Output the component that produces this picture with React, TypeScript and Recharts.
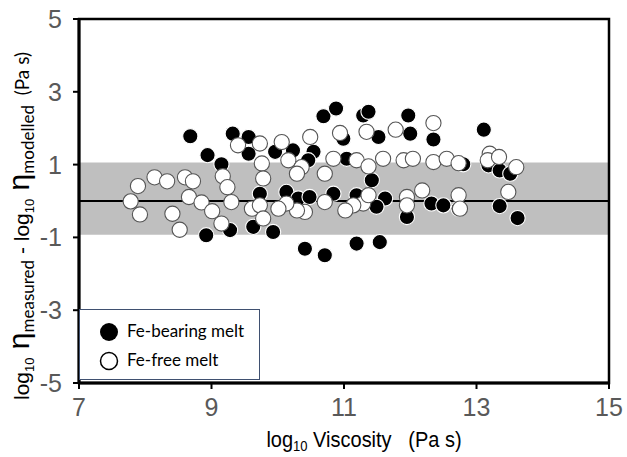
import {
  ScatterChart,
  Scatter,
  XAxis,
  YAxis,
  ReferenceArea,
  ReferenceLine,
  Legend,
} from 'recharts';

// log10 viscosity (x) vs residual log10 eta measured - modelled (y)
const feBearingX = [
  8.68, 8.94, 9.15, 8.92, 9.32, 9.56, 9.56, 9.28, 9.63, 10.69, 10.88, 11.29, 11.37, 11.97, 12.35, 12.0,
  11.52, 10.99, 10.54, 10.23, 9.96, 11.04, 10.46, 11.42, 9.73, 10.13, 10.31, 10.48, 10.84, 11.19, 11.62,
  11.49, 11.95, 12.32, 12.5, 9.93, 10.41, 10.71, 11.19, 11.54, 13.11, 12.8, 13.18, 13.35, 13.51, 12.73,
  13.35, 13.62,
];
const feBearingY = [
  1.78, 1.26, 1.01, -0.94, 1.85, 1.76, 1.3, -0.8, -0.71, 2.33, 2.54, 2.35, 2.45, 2.35, 1.69, 1.85,
  1.76, 1.71, 1.35, 1.39, 1.35, 1.16, 1.12, 0.57, 0.2, 0.25, 0.07, 0.11, 0.2, 0.16, 0.07,
  -0.16, -0.44, -0.07, -0.12, -0.85, -1.31, -1.49, -1.17, -1.13, 1.96, 1.01, 0.98, 0.84, 0.75, -0.21,
  -0.14, -0.47,
];

const feFreeX = [
  7.89, 7.78, 7.92, 8.14, 8.33, 8.6, 8.72, 8.66, 8.41, 8.52, 8.85, 9.01, 9.15, 9.17, 9.24, 9.3,
  9.4, 9.61, 9.73, 9.76, 9.78, 10.06, 10.16, 10.36, 10.29, 10.49, 10.71, 10.84, 10.94, 11.19, 11.34,
  11.37, 11.59, 11.78, 11.9, 12.04, 12.35, 12.35, 12.55, 12.73, 11.29, 11.37, 11.14, 11.02, 10.71,
  10.41, 10.29, 10.13, 10.01, 9.73, 9.78, 12.18, 11.95, 11.95, 12.73, 12.75, 13.2, 13.17, 13.34,
  13.6, 13.48,
];
const feFreeY = [
  0.41, -0.01, -0.37, 0.65, 0.54, 0.65, 0.54, 0.11, -0.35, -0.79, -0.04, -0.28, -0.62, 0.68, 0.38, -0.03,
  1.53, -0.21, 1.58, 1.03, 0.62, 1.62, 1.12, 0.93, 0.75, 1.76, 0.75, 1.16, 1.87, 1.12, 1.9,
  0.95, 1.16, 1.96, 1.12, 1.16, 2.14, 1.07, 1.16, 1.04, -0.07, 0.16, -0.12, -0.26, -0.03,
  -0.3, -0.26, -0.07, -0.21, -0.12, -0.48, 0.29, 0.11, -0.12, 0.16, -0.21, 1.3, 1.12, 1.21,
  0.93, 0.25,
];

const xTicks = [7, 9, 11, 13, 15];
const yTicks = [-5, -3, -1, 1, 3, 5];
const bandLow = -0.93;
const bandHigh = 1.06;
const seriesNames = ['Fe-bearing melt', 'Fe-free melt'];

const feBearing = feBearingX.map((x, i) => ({ x, y: feBearingY[i] }));
const feFree = feFreeX.map((x, i) => ({ x, y: feFreeY[i] }));

const tickFont = '"Liberation Sans", Arial, sans-serif';

const XTick = ({ x, y, payload }: any) => (
  <text x={x} y={y + 25} textAnchor="middle" fontSize={25} fill="#595959" fontFamily={tickFont}>
    {payload.value}
  </text>
);

const YTick = ({ x, y, payload }: any) => (
  <text x={x - 9} y={y + 9} textAnchor="end" fontSize={25} fill="#595959" fontFamily={tickFont}>
    {payload.value}
  </text>
);

const YTitle = () => (
  <text transform="translate(29,226) rotate(-90)" textAnchor="middle" fill="#000" fontFamily={tickFont}>
    <tspan fontSize={21}>log</tspan>
    <tspan fontSize={13} dy={5}>10</tspan>
    <tspan fontSize={30} dy={-5}> η</tspan>
    <tspan fontSize={17} dy={5} fontFamily="Lato">measured</tspan>
    <tspan fontSize={21} dy={-5}> - log</tspan>
    <tspan fontSize={13} dy={5}>10</tspan>
    <tspan fontSize={30} dy={-5}> η</tspan>
    <tspan fontSize={17} dy={5} fontFamily="Lato">modelled</tspan>
    <tspan fontSize={19} dy={-5} fontFamily="Lato">{'\u00a0\u00a0(Pa s)'}</tspan>
  </text>
);

const XTitle = () => (
  <text transform="translate(364,447) scale(1,1.1)" textAnchor="middle" fill="#000" fontFamily={tickFont} fontSize={20}>
    <tspan>log</tspan>
    <tspan fontSize={13} dy={4}>10</tspan>
    <tspan dy={-4}>{' Viscosity\u00a0\u00a0\u00a0(Pa s)'}</tspan>
  </text>
);

const Dot = (fill: string, stroke: string) => (p: any) =>
  <circle cx={p.cx} cy={p.cy} r={7.6} fill={fill} stroke={stroke} strokeWidth={1.1} />;

const LegendBox = () => (
  <div
    style={{
      width: 181,
      height: 71,
      boxSizing: 'border-box',
      border: '1px solid #3f5070',
      background: '#fff',
      position: 'relative',
      fontFamily: 'Lato, sans-serif',
      fontSize: 17,
      color: '#000',
    }}
  >
    <svg width={24} height={24} style={{ position: 'absolute', left: 17, top: 10 }}>
      <circle cx={12} cy={12} r={9} fill="#000" />
    </svg>
    <span style={{ position: 'absolute', left: 47, top: 10, lineHeight: '22px' }}>{seriesNames[0]}</span>
    <svg width={24} height={24} style={{ position: 'absolute', left: 17, top: 39 }}>
      <circle cx={12} cy={12} r={8.5} fill="#fff" stroke="#000" strokeWidth={1.5} />
    </svg>
    <span style={{ position: 'absolute', left: 47, top: 39, lineHeight: '22px' }}>{seriesNames[1]}</span>
  </div>
);

export default function App() {
  return (
    <div style={{ position: 'absolute', left: 0, top: 0, background: '#fff' }}>
      <ScatterChart width={627} height={457} margin={{ top: 19, right: 18, bottom: 0, left: 0 }}>
        <XAxis
          type="number"
          dataKey="x"
          domain={[7, 15]}
          ticks={xTicks}
          height={74}
          tick={<XTick />}
          tickSize={6}
          axisLine={{ stroke: '#000', strokeWidth: 3 }}
          tickLine={{ stroke: '#000', strokeWidth: 2 }}
          label={{ content: () => <XTitle /> }}
        />
        <YAxis
          type="number"
          dataKey="y"
          domain={[-5, 5]}
          ticks={yTicks}
          width={79}
          tick={<YTick />}
          tickSize={6}
          axisLine={{ stroke: '#000', strokeWidth: 3 }}
          tickLine={{ stroke: '#000', strokeWidth: 2 }}
          label={{ content: () => <YTitle /> }}
        />
        <ReferenceArea y1={bandLow} y2={bandHigh} fill="#bfbfbf" fillOpacity={1} stroke="none" />
        <ReferenceLine y={0} stroke="#000" strokeWidth={2} />
        <Scatter
          name={seriesNames[0]}
          data={feBearing}
          isAnimationActive={false}
          shape={Dot('#000', '#fff')}
        />
        <Scatter
          name={seriesNames[1]}
          data={feFree}
          isAnimationActive={false}
          shape={Dot('#fff', '#555')}
        />
        <ReferenceArea x1={7} x2={15} y1={-5} y2={5} fill="none" stroke="#000" strokeWidth={2.5} />
        <Legend
          layout="horizontal"
          verticalAlign="middle"
          align="center"
          content={() => <LegendBox />}
          wrapperStyle={{ left: 79, top: 309, width: 181, height: 71 }}
        />
      </ScatterChart>
    </div>
  );
}
